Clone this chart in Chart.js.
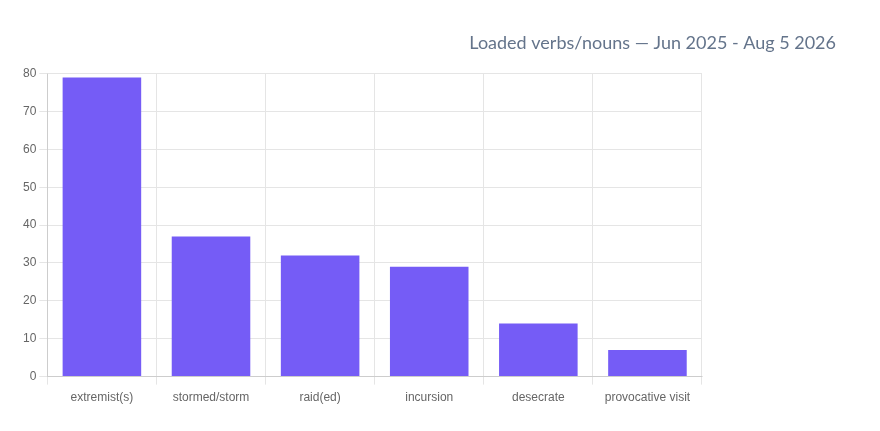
<!DOCTYPE html>
<html><head><meta charset="utf-8">
<script src="https://cdn.jsdelivr.net/npm/chart.js@4"></script>
<style>html,body{margin:0;padding:0;background:#fff}#w{width:880px;height:431px}</style>
</head><body><div id="w"><canvas id="c"></canvas></div>
<script>
const categories = ["extremist(s)","stormed/storm","raid(ed)","incursion","desecrate","provocative visit"];
const counts = [79,37,32,29,14,7];
const titleText = "Loaded verbs/nouns \u2014 Jun 2025 - Aug 5 2026";
new Chart(document.getElementById('c'), {
  type: 'bar',
  data: { labels: categories, datasets: [{ label: 'Count', data: counts, backgroundColor: '#755cf6' }] },
  options: {
    responsive: true, maintainAspectRatio: false, animation: false,
    layout: { padding: { left: 20, right: 44, top: 20, bottom: 20 } },
    plugins: {
      legend: { display: false },
      title: { display: true, text: titleText, align: 'end', color: '#64748b',
        font: { family: 'Lato', size: 18, weight: 'normal' }, padding: { top: 12, bottom: 20 } }
    },
    scales: {
      x: { grid: { color: '#e5e5e5' }, ticks: { color: '#666', font: { family: 'Liberation Sans', size: 12 }, padding: 6 } },
      y: { min: 0, max: 80, ticks: { stepSize: 10, color: '#666', font: { family: 'Liberation Sans', size: 12 } }, grid: { color: '#e5e5e5' } },
      y2: { position: 'right', display: true, grid: { display: false, drawOnChartArea: false }, border: { display: false },
        ticks: { display: false }, afterFit: s => { s.width = 134; } }
    }
  }
});
</script></body></html>
